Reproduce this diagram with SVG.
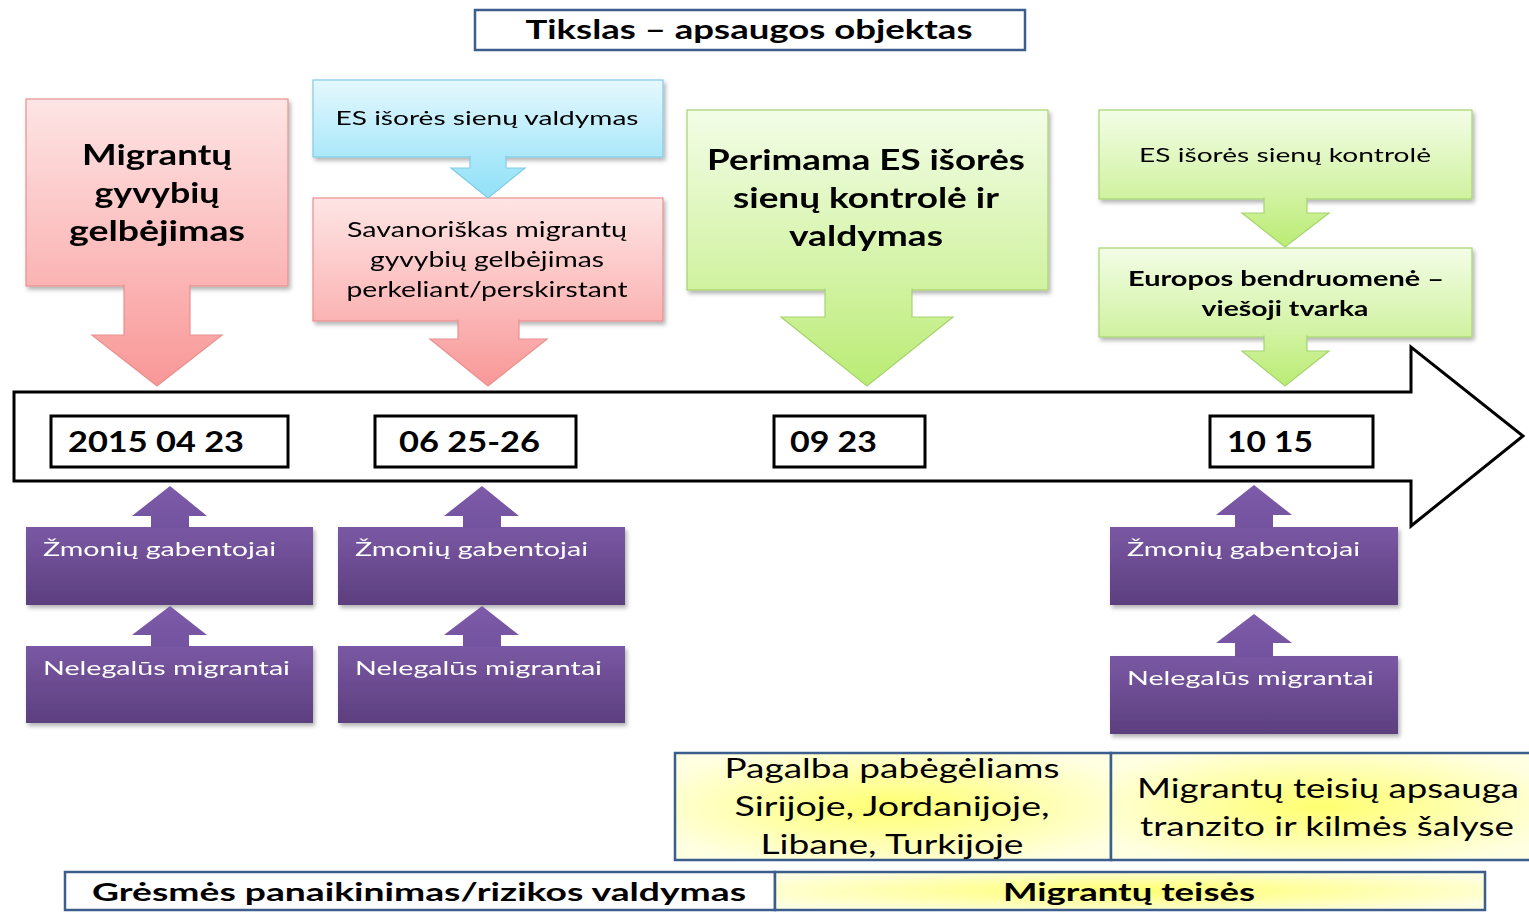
<svg xmlns="http://www.w3.org/2000/svg" width="1529" height="912" viewBox="0 0 1529 912">
<style>
text{font-family:Lato,"Open Sans","Liberation Sans",sans-serif;fill:#000}
.b{font-weight:bold}
.w{fill:#fff}
.frame{fill:#fff;stroke:#3b5e8c;stroke-width:2.5}
.date{fill:#fff;stroke:#000;stroke-width:3}
.pink{fill:url(#gPinkBox);stroke:#e8908f;stroke-width:1.2}
.pinkA{fill:url(#gPinkArr);stroke:#e8908f;stroke-width:1.2}
.blue{fill:url(#gBlueBox);stroke:#80cbe6;stroke-width:1.2}
.blueA{fill:url(#gBlueArr);stroke:#80cbe6;stroke-width:1.2}
.green{fill:url(#gGreenBox);stroke:#a6d46e;stroke-width:1.2}
.greenA{fill:url(#gGreenArr);stroke:#a6d46e;stroke-width:1.2}
.purp{fill:url(#gPurpBox);stroke:none}
.purpA{fill:url(#gPurpArr);stroke:none}
.yel{fill:url(#gYel);stroke:#3b5e8c;stroke-width:2.5}
.sh{filter:url(#shadow)}
</style>
<defs>
<filter id="shadow" x="-10%" y="-10%" width="125%" height="130%">
<feDropShadow dx="2" dy="3" stdDeviation="2" flood-color="#000" flood-opacity="0.3"/>
</filter>
<linearGradient id="gPinkBox" x1="0" y1="0" x2="0" y2="1"><stop offset="0" stop-color="#fee5e5"/><stop offset="1" stop-color="#fbb3b3"/></linearGradient>
<linearGradient id="gPinkArr" x1="0" y1="0" x2="0" y2="1"><stop offset="0" stop-color="#fbb3b3"/><stop offset="1" stop-color="#f99797"/></linearGradient>
<linearGradient id="gBlueBox" x1="0" y1="0" x2="0" y2="1"><stop offset="0" stop-color="#e5f8fe"/><stop offset="1" stop-color="#abe8fa"/></linearGradient>
<linearGradient id="gBlueArr" x1="0" y1="0" x2="0" y2="1"><stop offset="0" stop-color="#abe8fa"/><stop offset="1" stop-color="#92e1f7"/></linearGradient>
<linearGradient id="gGreenBox" x1="0" y1="0" x2="0" y2="1"><stop offset="0" stop-color="#f3fde7"/><stop offset="1" stop-color="#d0f29f"/></linearGradient>
<linearGradient id="gGreenArr" x1="0" y1="0" x2="0" y2="1"><stop offset="0" stop-color="#d0f29f"/><stop offset="1" stop-color="#baec74"/></linearGradient>
<linearGradient id="gPurpBox" x1="0" y1="0" x2="0" y2="1"><stop offset="0" stop-color="#7a58a4"/><stop offset="1" stop-color="#5c3f7e"/></linearGradient>
<linearGradient id="gPurpArr" x1="0" y1="0" x2="0" y2="1"><stop offset="0" stop-color="#7d5ba8"/><stop offset="1" stop-color="#7352a0"/></linearGradient>
<radialGradient id="gYel" cx="0.5" cy="0.5" r="0.6"><stop offset="0" stop-color="#ffff70"/><stop offset="1" stop-color="#ffffe2"/></radialGradient>
</defs>
<rect width="1529" height="912" fill="#fff"/>

<g id="title">
<rect class="frame" x="475" y="10" width="550" height="40"/>
<text class="b" x="749" y="39" font-size="27" text-anchor="middle" textLength="447" lengthAdjust="spacingAndGlyphs">Tikslas – apsaugos objektas</text>
</g>

<g id="timeline">
<path d="M14,392 L1411,392 L1411,347 L1523,436 L1411,526 L1411,481 L14,481 Z" fill="#fff" stroke="#000" stroke-width="3" stroke-linejoin="miter"/>
</g>

<g id="date1"><rect class="date" x="51" y="416" width="237" height="51"/>
<text class="b" x="68" y="452" font-size="28" textLength="176" lengthAdjust="spacingAndGlyphs">2015 04 23</text></g>
<g id="date2"><rect class="date" x="375" y="416" width="201" height="51"/>
<text class="b" x="399" y="452" font-size="28" textLength="141" lengthAdjust="spacingAndGlyphs">06 25-26</text></g>
<g id="date3"><rect class="date" x="774" y="416" width="151" height="51"/>
<text class="b" x="790" y="452" font-size="28" textLength="87" lengthAdjust="spacingAndGlyphs">09 23</text></g>
<g id="date4"><rect class="date" x="1210" y="416" width="163" height="51"/>
<text class="b" x="1227" y="452" font-size="28" textLength="86" lengthAdjust="spacingAndGlyphs">10 15</text></g>

<g id="pink1" class="sh"><rect class="pink" x="26" y="99" width="262" height="187"/>
<text class="b" x="157" y="165" font-size="29" text-anchor="middle" textLength="150" lengthAdjust="spacingAndGlyphs">Migrantų</text>
<text class="b" x="157" y="203" font-size="29" text-anchor="middle" textLength="125" lengthAdjust="spacingAndGlyphs">gyvybių</text>
<text class="b" x="157" y="241" font-size="29" text-anchor="middle" textLength="176" lengthAdjust="spacingAndGlyphs">gelbėjimas</text></g>

<g id="blue1" class="sh"><rect class="blue" x="313" y="80" width="350" height="77"/>
<text x="487" y="125" font-size="20" text-anchor="middle" textLength="303" lengthAdjust="spacingAndGlyphs">ES išorės sienų valdymas</text></g>

<g id="pink2" class="sh"><rect class="pink" x="313" y="198" width="350" height="123"/>
<text x="487" y="237" font-size="21" text-anchor="middle" textLength="280" lengthAdjust="spacingAndGlyphs">Savanoriškas migrantų</text>
<text x="487" y="267" font-size="21" text-anchor="middle" textLength="234" lengthAdjust="spacingAndGlyphs">gyvybių gelbėjimas</text>
<text x="487" y="297" font-size="21" text-anchor="middle" textLength="281" lengthAdjust="spacingAndGlyphs">perkeliant/perskirstant</text></g>

<g id="green1" class="sh"><rect class="green" x="687" y="110" width="361" height="180"/>
<text class="b" x="866" y="170" font-size="28" text-anchor="middle" textLength="318" lengthAdjust="spacingAndGlyphs">Perimama ES išorės</text>
<text class="b" x="866" y="208" font-size="28" text-anchor="middle" textLength="266" lengthAdjust="spacingAndGlyphs">sienų kontrolė ir</text>
<text class="b" x="866" y="246" font-size="28" text-anchor="middle" textLength="154" lengthAdjust="spacingAndGlyphs">valdymas</text></g>

<g id="green2" class="sh"><rect class="green" x="1099" y="110" width="373" height="89"/>
<text x="1285" y="162" font-size="20" text-anchor="middle" textLength="292" lengthAdjust="spacingAndGlyphs">ES išorės sienų kontrolė</text></g>

<g id="green3" class="sh"><rect class="green" x="1099" y="248" width="373" height="89"/>
<text class="b" x="1286" y="286" font-size="21" text-anchor="middle" textLength="316" lengthAdjust="spacingAndGlyphs">Europos bendruomenė –</text>
<text class="b" x="1285" y="316" font-size="21" text-anchor="middle" textLength="167" lengthAdjust="spacingAndGlyphs">viešoji tvarka</text></g>

<g id="smug1" class="sh"><rect class="purp" x="26" y="527" width="287" height="78"/>
<text class="w" x="43" y="556" font-size="20" textLength="233" lengthAdjust="spacingAndGlyphs">Žmonių gabentojai</text></g>
<g id="mig1" class="sh"><rect class="purp" x="26" y="646" width="287" height="77"/>
<text class="w" x="43" y="675" font-size="20" textLength="247" lengthAdjust="spacingAndGlyphs">Nelegalūs migrantai</text></g>
<g id="smug2" class="sh"><rect class="purp" x="338" y="527" width="287" height="78"/>
<text class="w" x="355" y="556" font-size="20" textLength="233" lengthAdjust="spacingAndGlyphs">Žmonių gabentojai</text></g>
<g id="mig2" class="sh"><rect class="purp" x="338" y="646" width="287" height="77"/>
<text class="w" x="355" y="675" font-size="20" textLength="247" lengthAdjust="spacingAndGlyphs">Nelegalūs migrantai</text></g>
<g id="smug3" class="sh"><rect class="purp" x="1110" y="527" width="288" height="78"/>
<text class="w" x="1127" y="556" font-size="20" textLength="233" lengthAdjust="spacingAndGlyphs">Žmonių gabentojai</text></g>
<g id="mig3" class="sh"><rect class="purp" x="1110" y="656" width="288" height="78"/>
<text class="w" x="1127" y="685" font-size="20" textLength="247" lengthAdjust="spacingAndGlyphs">Nelegalūs migrantai</text></g>

<g id="help">
<rect class="yel" x="675" y="753" width="436" height="107"/>
<text x="892" y="778" font-size="26" text-anchor="middle" textLength="335" lengthAdjust="spacingAndGlyphs">Pagalba pabėgėliams</text>
<text x="892" y="816" font-size="26" text-anchor="middle" textLength="315" lengthAdjust="spacingAndGlyphs">Sirijoje, Jordanijoje,</text>
<text x="892" y="854" font-size="26" text-anchor="middle" textLength="263" lengthAdjust="spacingAndGlyphs">Libane, Turkijoje</text>
</g>
<g id="rights-protect">
<rect class="yel" x="1111" y="753" width="420" height="107"/>
<text x="1328" y="798" font-size="26" text-anchor="middle" textLength="382" lengthAdjust="spacingAndGlyphs">Migrantų teisių apsauga</text>
<text x="1327" y="836" font-size="26" text-anchor="middle" textLength="374" lengthAdjust="spacingAndGlyphs">tranzito ir kilmės šalyse</text>
</g>
<g id="risk">
<rect class="frame" x="65" y="872" width="710" height="38"/>
<text class="b" x="419" y="901" font-size="25" text-anchor="middle" textLength="654" lengthAdjust="spacingAndGlyphs">Grėsmės panaikinimas/rizikos valdymas</text>
</g>
<g id="rights">
<rect class="yel" x="775" y="872" width="710" height="38"/>
<text class="b" x="1129" y="901" font-size="25" text-anchor="middle" textLength="252" lengthAdjust="spacingAndGlyphs">Migrantų teisės</text>
</g>

<g id="connectors">
<path class="pinkA" d="M124,284.5 L124,335 L92,335 L157,386 L222,335 L190,335 L190,284.5"/>
<path class="blueA" d="M470,155.5 L470,168 L451,168 L488,198 L525,168 L506,168 L506,155.5"/>
<path class="pinkA" d="M458,319.5 L458,339 L430,339 L488,386 L547,339 L519,339 L519,319.5"/>
<path class="greenA" d="M825,288.5 L825,317 L781,317 L867,386 L953,317 L912,317 L912,288.5"/>
<path class="greenA" d="M1264,197.5 L1264,213 L1242,213 L1285,247 L1329,213 L1307,213 L1307,197.5"/>
<path class="greenA" d="M1264,335.5 L1264,351 L1242,351 L1285,386 L1329,351 L1307,351 L1307,335.5"/>
<path class="purpA" d="M151,528 L151,516 L132,516 L170,486 L207,516 L189,516 L189,528 Z"/>
<path class="purpA" d="M151,647 L151,635 L132,635 L170,606 L207,635 L189,635 L189,647 Z"/>
<path class="purpA" d="M463,528 L463,516 L444,516 L482,486 L519,516 L501,516 L501,528 Z"/>
<path class="purpA" d="M463,647 L463,635 L444,635 L482,606 L519,635 L501,635 L501,647 Z"/>
<path class="purpA" d="M1235,528 L1235,515 L1216,515 L1254,485 L1292,515 L1273,515 L1273,528 Z"/>
<path class="purpA" d="M1235,657 L1235,643 L1216,643 L1254,614 L1292,643 L1273,643 L1273,657 Z"/>
</g>
</svg>
